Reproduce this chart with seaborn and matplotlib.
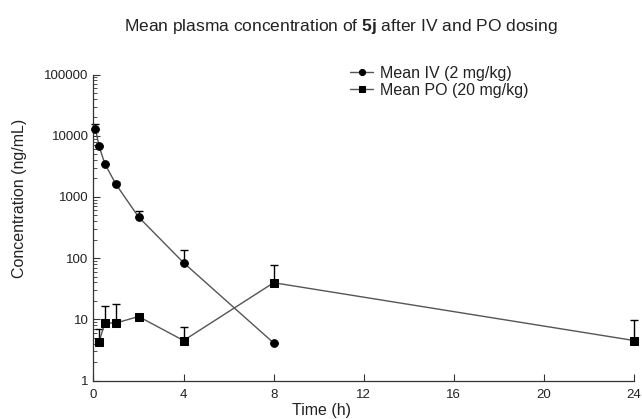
# Concentración plasmática media de 5j tras dosis IV y PO

import numpy as np
import pandas as pd
import seaborn as sns
import matplotlib.pyplot as plt
from matplotlib.ticker import LogLocator, FixedLocator, NullFormatter

#%% Datos
t_iv = [0.083, 0.25, 0.5, 1, 2, 4, 8]
media_iv = [13000, 6700, 3500, 1600, 470, 84, 4.1]
sd_iv = [2600, 0, 0, 130, 125, 54, 0]

t_po = [0.25, 0.5, 1, 2, 4, 8, 24]
media_po = [4.3, 8.7, 8.7, 11.1, 4.5, 39.6, 4.5]
sd_po = [2.6, 7.9, 9.3, 0, 2.9, 39, 5.2]

etiqueta_iv = "Mean IV (2 mg/kg)"
etiqueta_po = "Mean PO (20 mg/kg)"
x_ticks = [0, 4, 8, 12, 16, 20, 24]
y_ticks = [1, 10, 100, 1000, 10000, 100000]

df = pd.concat([
    pd.DataFrame({"t": t_iv, "conc": media_iv, "grupo": etiqueta_iv}),
    pd.DataFrame({"t": t_po, "conc": media_po, "grupo": etiqueta_po}),
])

#%% Estilo
sns.set_style("ticks")
plt.rcParams["font.family"] = ["Liberation Sans", "DejaVu Sans"]
plt.rcParams["mathtext.fontset"] = "custom"
plt.rcParams["mathtext.rm"] = "Liberation Sans"
plt.rcParams["mathtext.bf"] = "Liberation Sans:bold"
texto = "#222222"

fig = plt.figure(figsize=(6.42, 4.19), dpi=100)
ax = fig.add_axes([93.5 / 642, (419 - 380.5) / 419, 540.5 / 642, 306 / 419])

sns.lineplot(data=df, x="t", y="conc", hue="grupo", style="grupo",
             markers={etiqueta_iv: "o", etiqueta_po: "s"}, dashes=False,
             palette={etiqueta_iv: "#555555", etiqueta_po: "#555555"},
             markersize=5.5, markeredgecolor="black", markerfacecolor="black",
             linewidth=1, ax=ax, clip_on=False, zorder=3)

# barras de error solo hacia arriba
ax.errorbar(t_iv, media_iv, yerr=[np.zeros(len(sd_iv)), sd_iv], fmt="none",
            ecolor="black", elinewidth=1, capsize=3, capthick=1, clip_on=False)
ax.errorbar(t_po, media_po, yerr=[np.zeros(len(sd_po)), sd_po], fmt="none",
            ecolor="black", elinewidth=1, capsize=3, capthick=1, clip_on=False)

ax.set_yscale("log")
ax.set_ylim(1, 100000)
ax.set_xlim(0, 24)
ax.xaxis.set_major_locator(FixedLocator(x_ticks))
ax.set_yticks(y_ticks)
ax.set_yticklabels([str(v) for v in y_ticks])
ax.yaxis.set_minor_locator(LogLocator(base=10, subs=np.arange(2, 10), numticks=10))
ax.yaxis.set_minor_formatter(NullFormatter())

ax.tick_params(axis="both", which="major", direction="in", length=5, width=0.8,
               labelsize=9.5, colors="#333333", labelcolor=texto)
ax.tick_params(axis="y", which="minor", direction="in", length=3, width=0.6, colors="#333333")
ax.tick_params(axis="x", pad=6)
sns.despine(ax=ax)
for s in ["left", "bottom"]:
    ax.spines[s].set_linewidth(0.9)
    ax.spines[s].set_color("#333333")

ax.set_xlabel("Time (h)", fontsize=11.5, color=texto)
ax.set_ylabel("Concentration (ng/mL)", fontsize=11.5, color=texto, va="center")
ax.xaxis.set_label_coords((321 - 93.5) / 540.5, (380.5 - 403) / 306)
ax.yaxis.set_label_coords((20 - 93.5) / 540.5, (380.5 - 198) / 306)

ax.legend(loc="upper left", bbox_to_anchor=(350 / 642, 1 - 66 / 419),
          bbox_transform=fig.transFigure, frameon=False, fontsize=11.5,
          handlelength=1.45, handletextpad=0.4, labelspacing=0.1,
          borderpad=0, borderaxespad=0, labelcolor=texto, markerscale=0.8)

fig.text(341 / 642, 1 - 26 / 419,
         r"Mean plasma concentration of $\mathbf{5j}$ after IV and PO dosing",
         ha="center", va="center", fontsize=12.5, color=texto)

fig.savefig("out.png", dpi=100)
